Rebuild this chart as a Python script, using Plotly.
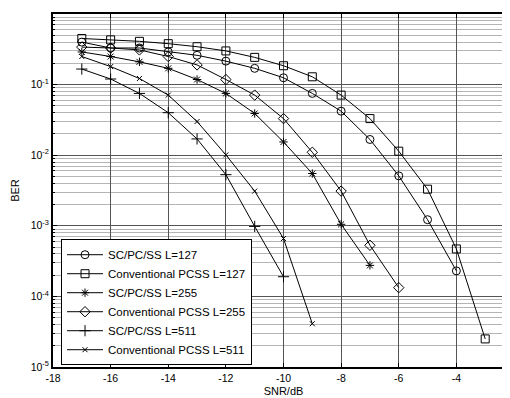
import plotly.graph_objects as go

snr_c127 = [-17, -16, -15, -14, -13, -12, -11, -10, -9, -8, -7, -6, -5, -4]
ber_sc127 = [0.40, 0.33, 0.33, 0.29, 0.26, 0.215, 0.17, 0.125, 0.075, 0.042, 0.0167, 0.0051, 0.00122, 2.3e-4]

snr_cv127 = [-17, -16, -15, -14, -13, -12, -11, -10, -9, -8, -7, -6, -5, -4, -3]
ber_cv127 = [0.45, 0.43, 0.41, 0.38, 0.344, 0.30, 0.243, 0.185, 0.129, 0.071, 0.033, 0.0114, 0.0033, 4.7e-4, 2.5e-5]

snr_sc255 = [-17, -16, -15, -14, -13, -12, -11, -10, -9, -8, -7]
ber_sc255 = [0.29, 0.25, 0.21, 0.17, 0.118, 0.075, 0.039, 0.0154, 0.0055, 0.00105, 2.75e-4]

snr_cv255 = [-17, -16, -15, -14, -13, -12, -11, -10, -9, -8, -7, -6]
ber_cv255 = [0.34, 0.33, 0.31, 0.25, 0.19, 0.118, 0.071, 0.033, 0.0110, 0.0031, 5.3e-4, 1.33e-4]

snr_sc511 = [-17, -16, -15, -14, -13, -12, -11, -10]
ber_sc511 = [0.166, 0.12, 0.075, 0.040, 0.017, 0.0053, 9.8e-4, 1.9e-4]

snr_cv511 = [-17, -16, -15, -14, -13, -12, -11, -10, -9]
ber_cv511 = [0.25, 0.18, 0.122, 0.071, 0.030, 0.0101, 0.0031, 6.6e-4, 4.1e-5]

x_ticks = [-18, -16, -14, -12, -10, -8, -6, -4, -2]
x_ticktext = ["-18", "-16", "-14", "-12", "-10", "-8", "-6", "-4", "-2"]
y_ticks = [1, 0.1, 0.01, 0.001, 1e-4, 1e-5]
y_ticktext = ["10<sup>0</sup>", "10<sup>-1</sup>", "10<sup>-2</sup>", "10<sup>-3</sup>",
              "10<sup>-4</sup>", "10<sup>-5</sup>"]
y_minor = [k * 10.0 ** d for d in range(-5, 0) for k in range(2, 10)]

series = [
    ("SC/PC/SS L=127", snr_c127, ber_sc127, "circle-open", 8),
    ("Conventional PCSS L=127", snr_cv127, ber_cv127, "square-open", 8),
    ("SC/PC/SS L=255", snr_sc255, ber_sc255, "asterisk-open", 7),
    ("Conventional PCSS L=255", snr_cv255, ber_cv255, "diamond-open", 8),
    ("SC/PC/SS L=511", snr_sc511, ber_sc511, "cross-thin-open", 8),
    ("Conventional PCSS L=511", snr_cv511, ber_cv511, "x-thin-open", 5),
]

fig = go.Figure()
for name, xs, ys, sym, sz in series:
    fig.add_trace(go.Scatter(
        x=xs, y=ys, name=name, mode="lines+markers",
        line=dict(color="black", width=1),
        marker=dict(symbol=sym, size=sz, color="black", line=dict(color="black", width=1)),
    ))

FONT = "Liberation Sans, Arial, sans-serif"

fig.update_layout(
    width=510, height=398,
    margin=dict(l=45, r=4, t=6, b=39),
    paper_bgcolor="white", plot_bgcolor="white",
    font=dict(family=FONT, size=10.5, color="black"),
    showlegend=True,
    legend=dict(
        x=0.0174, y=0.362, xanchor="left", yanchor="top",
        bgcolor="white", bordercolor="black", borderwidth=1,
        font=dict(family=FONT, size=11.5, color="black"),
        tracegroupgap=0, itemwidth=36,
    ),
    xaxis=dict(
        range=[-18, -2], tickmode="array", tickvals=x_ticks, ticktext=x_ticktext,
        ticks="inside", ticklen=4, tickcolor="black",
        tickfont=dict(size=10.5),
        showgrid=True, gridcolor="#555555", gridwidth=1,
        showline=True, linecolor="black", linewidth=2, mirror="ticks",
        zeroline=False, automargin=False,
        title=dict(text="SNR/dB", standoff=5, font=dict(size=11)),
    ),
    yaxis=dict(
        type="log", range=[-5, 0], tickmode="array", tickvals=y_ticks, ticktext=y_ticktext,
        ticks="inside", ticklen=4, tickcolor="black",
        tickfont=dict(size=10.5),
        showgrid=True, gridcolor="#555555", gridwidth=1,
        showline=True, linecolor="black", linewidth=2, mirror="ticks",
        zeroline=False, automargin=False,
        minor=dict(tickmode="array", tickvals=y_minor, showgrid=True, gridcolor="#b5b5b5",
                   gridwidth=1, ticks="inside", ticklen=2, tickcolor="black"),
        title=dict(text="BER", standoff=9, font=dict(size=11)),
    ),
)

fig.write_html("out.html")
